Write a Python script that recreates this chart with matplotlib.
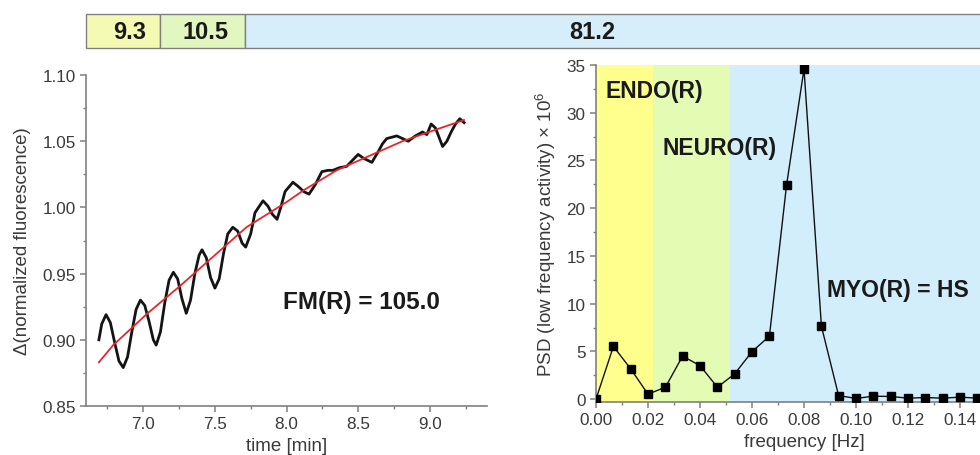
import matplotlib.pyplot as plt
from matplotlib.patches import Rectangle
from matplotlib.ticker import MultipleLocator

plt.rcParams['font.family'] = ['Liberation Sans', 'DejaVu Sans']
plt.rcParams['mathtext.fontset'] = 'custom'
plt.rcParams['mathtext.rm'] = 'Liberation Sans'

# fluorescence trace (time in min)
tempo = [6.69, 6.71, 6.74, 6.77, 6.80, 6.83, 6.86, 6.89, 6.92, 6.95,
         6.98, 7.01, 7.04, 7.07, 7.09, 7.12, 7.15, 7.18, 7.21, 7.24,
         7.27, 7.30, 7.33, 7.36, 7.39, 7.41, 7.44, 7.47, 7.50, 7.53,
         7.56, 7.59, 7.625, 7.66, 7.69, 7.715, 7.75, 7.78, 7.836, 7.87,
         7.90, 7.934, 7.96, 7.99, 8.045, 8.08, 8.12, 8.157, 8.20, 8.247,
         8.29, 8.324, 8.37, 8.42, 8.50, 8.54, 8.596, 8.64, 8.67, 8.70,
         8.77, 8.85, 8.90, 8.95, 8.98, 9.01, 9.04, 9.09, 9.12, 9.15,
         9.18, 9.21, 9.24]
fluo = [0.900, 0.912, 0.919, 0.913, 0.898, 0.884, 0.879, 0.887, 0.906, 0.923,
        0.930, 0.926, 0.914, 0.900, 0.896, 0.906, 0.928, 0.945, 0.951, 0.946,
        0.931, 0.920, 0.930, 0.950, 0.964, 0.968, 0.962, 0.947, 0.939, 0.946,
        0.965, 0.980, 0.985, 0.982, 0.973, 0.970, 0.980, 0.996, 1.005, 1.001,
        0.995, 0.991, 1.000, 1.012, 1.019, 1.016, 1.012, 1.010, 1.017, 1.027,
        1.028, 1.028, 1.030, 1.031, 1.040, 1.037, 1.034, 1.042, 1.048, 1.052,
        1.054, 1.050, 1.054, 1.057, 1.055, 1.063, 1.060, 1.046, 1.050, 1.057,
        1.063, 1.067, 1.064]

# trend fit
tempo_fit = [6.69, 6.79, 7.03, 7.26, 7.49, 7.72, 8.00, 8.12, 8.35, 8.58, 8.81, 9.05, 9.24]
fluo_fit = [0.883, 0.896, 0.920, 0.941, 0.963, 0.985, 1.004, 1.013, 1.028, 1.039, 1.050, 1.059, 1.066]

# power spectrum
freq = [0.0, 0.0067, 0.0133, 0.02, 0.0267, 0.0333, 0.04, 0.0467, 0.0533, 0.06,
        0.0667, 0.0733, 0.08, 0.0867, 0.0933, 0.1, 0.1067, 0.1133, 0.12, 0.1267,
        0.1333, 0.14, 0.1467]
psd = [0.0, 5.52, 3.19, 0.52, 1.25, 4.51, 3.51, 1.25, 2.64, 4.97,
       6.60, 22.44, 34.58, 7.64, 0.38, 0.07, 0.31, 0.28, 0.10, 0.17,
       0.10, 0.21, 0.10]

# frequency bands
bande = [(0.0, 0.022), (0.022, 0.0515), (0.0515, 0.16)]
colori_bande = ['#ffff8e', '#e4fbb4', '#d2eefb']
nomi_bande = ['ENDO(R)', 'NEURO(R)', 'MYO(R) = HS']

# percentages on the top bar
percentuali = ['9.3', '10.5', '81.2']
colori_barra = ['#f4fab4', '#e2f6c0', '#d5eefa']

grigio = '#808080'
testo = '#3a3a3a'


def stile(ax):
    for s in ['top', 'right']:
        ax.spines[s].set_visible(False)
    for s in ['left', 'bottom']:
        ax.spines[s].set_color(grigio)
        ax.spines[s].set_linewidth(1.2)
    ax.tick_params(which='both', direction='out', color=grigio, labelcolor=testo,
                   labelsize=12.3)
    ax.tick_params(which='major', length=4, width=1.1)
    ax.tick_params(which='minor', length=2.5, width=1.0)


fig = plt.figure(figsize=(9.8, 4.56), dpi=100)

# top bar with percentages
bar = fig.add_axes([0, 0, 1, 1])
bar.set_xlim(0, 980)
bar.set_ylim(456, 0)
bar.axis('off')
bordi = [86, 160, 245, 1000]
centri = [130, 205, 592]
for i in range(3):
    bar.add_patch(Rectangle((bordi[i], 15), bordi[i + 1] - bordi[i], 34,
                            facecolor=colori_barra[i], edgecolor=grigio, lw=1.0))
    bar.text(centri[i], 32.5, percentuali[i], ha='center', va='center',
             fontsize=17, fontweight='bold', color='#1a1a1a')

# left: fluorescence vs time
ax1 = fig.add_axes([86 / 980, 49 / 456, 401 / 980, 331 / 456])
ax1.plot(tempo, fluo, color='#141414', lw=2.0)
ax1.plot(tempo_fit, fluo_fit, color='#e8262a', lw=1.3)
ax1.set_xlim(6.6, 9.4)
ax1.set_ylim(0.85, 1.10)
ax1.xaxis.set_minor_locator(MultipleLocator(0.25))
ax1.yaxis.set_minor_locator(MultipleLocator(0.025))
ax1.set_yticks([0.85, 0.90, 0.95, 1.00, 1.05, 1.10])
ax1.set_yticklabels(['0.85', '0.90', '0.95', '1.00', '1.05', '1.10'])
ax1.set_xticks([7.0, 7.5, 8.0, 8.5, 9.0])
ax1.set_xticklabels(['7.0', '7.5', '8.0', '8.5', '9.0'])
stile(ax1)
ax1.set_xlabel('time [min]', fontsize=13.5, color=testo, labelpad=4)
ax1.set_ylabel('\u0394(normalized fluorescence)', fontsize=13.5, color=testo, labelpad=8)
ax1.text(8.52, 0.9286, 'FM(R) = 105.0', ha='center', va='center',
         fontsize=17.5, fontweight='bold', color='#1a1a1a')

# right: power spectral density (axes runs past the right edge of the figure)
ax2 = fig.add_axes([596 / 980, 53 / 456, 0.16 * 2600 / 980, 337 / 456])
for (a, b), c in zip(bande, colori_bande):
    ax2.axvspan(a, b, color=c, lw=0, zorder=0)
ax2.plot(freq, psd, color='#111111', lw=1.0, marker='s', ms=5.5,
         mfc='black', mec='black', zorder=3)
ax2.set_xlim(0, 0.16)
ax2.set_ylim(-0.3, 35)
ax2.set_xticks([0.0, 0.02, 0.04, 0.06, 0.08, 0.10, 0.12, 0.14])
ax2.set_xticklabels(['0.00', '0.02', '0.04', '0.06', '0.08', '0.10', '0.12', '0.14'])
ax2.xaxis.set_minor_locator(MultipleLocator(0.01))
ax2.yaxis.set_major_locator(MultipleLocator(5))
ax2.yaxis.set_minor_locator(MultipleLocator(2.5))
stile(ax2)
ax2.set_xlabel('frequency [Hz]', fontsize=13.5, color=testo, labelpad=4)
ax2.set_ylabel('PSD (low frequency activity) $\\times$ 10$^{6}$', fontsize=13.5,
               color=testo, labelpad=6)
posizioni = [(0.0038, 32.3), (0.0257, 26.4), (0.0889, 11.5)]
for (x, y), nome in zip(posizioni, nomi_bande):
    ax2.text(x, y, nome, ha='left', va='center', fontsize=16.5,
             fontweight='bold', color='#1a1a1a')

fig.savefig('out.png', dpi=100)
